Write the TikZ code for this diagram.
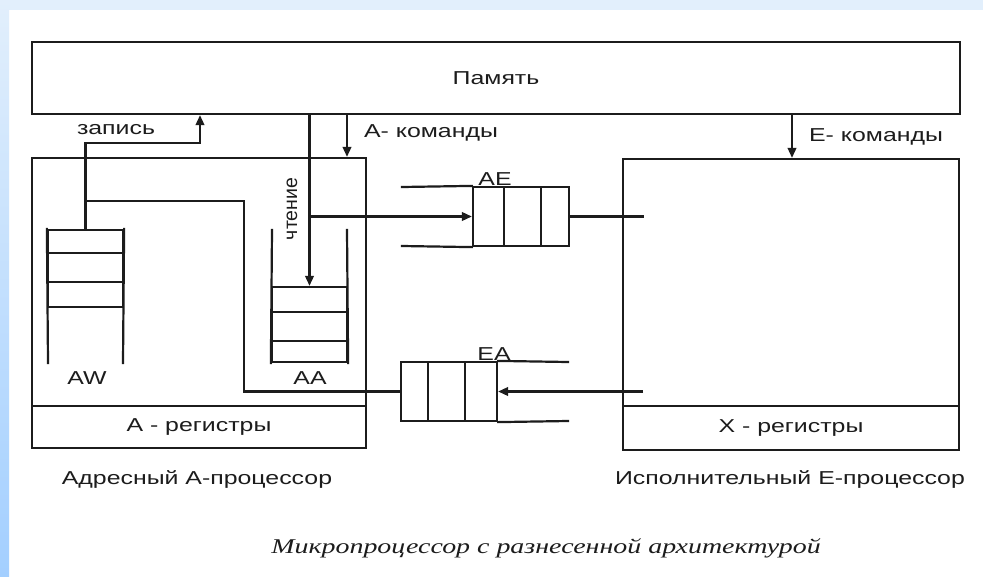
\documentclass[tikz,border=0pt]{standalone}
\usepackage{fontspec}
\setmainfont{Liberation Sans}
\newfontfamily\capfont{Liberation Serif}
\usepackage{graphicx}
\usetikzlibrary{arrows.meta}
\newcommand{\hx}[1]{\scalebox{1.33}[1]{#1}}
\definecolor{ink}{HTML}{1C1C1C}
\definecolor{bandlight}{HTML}{E2EFFC}
\definecolor{banddark}{HTML}{A3CFFF}
\begin{document}
\begin{tikzpicture}[x=1pt,y=-1pt,
  line width=2.2pt, draw=ink, text=ink, line cap=rect,
  box/.style={draw=ink, line width=2.2pt, inner sep=0pt, font=\fontsize{18.7}{21}\selectfont},
  cell/.style={draw=ink, line width=2.2pt, inner sep=0pt},
  lbl/.style={inner sep=0pt, font=\fontsize{18.7}{21}\selectfont},
  arr/.style={line cap=butt, -{Triangle[length=10pt,width=8.5pt]}}]
\useasboundingbox (0,0) rectangle (983,576);
\fill[white] (0,0) rectangle (983,576);
\fill[bandlight] (0,0) rectangle (983,10);
\fill[top color=bandlight, bottom color=banddark] (0,0) rectangle (9,576);

% memory
\node[box, minimum width=928pt, minimum height=72pt] (mem) at (496,78) {\hx{Память}};
% A processor
\node[box, minimum width=334pt, minimum height=290pt] (aproc) at (199,303) {};
\node[box, minimum width=334pt, minimum height=42pt] (aregs) at (199,427) {\hx{A - регистры}};
% E processor
\node[box, minimum width=336pt, minimum height=291pt] (eproc) at (791,304.5) {};
\node[box, minimum width=336pt, minimum height=44pt] (xregs) at (791,428) {\hx{X - регистры}};

% AW stack
\node[cell, minimum width=75pt, minimum height=23pt] (aw1) at (85.5,241.5) {};
\node[cell, minimum width=75pt, minimum height=29pt] (aw2) at (85.5,267.5) {};
\node[cell, minimum width=75pt, minimum height=25pt] (aw3) at (85.5,294.5) {};
\coordinate (awbl) at (48,363);
\coordinate (awbr) at (123,363);
\draw (aw1.north west) -- (awbl);
\draw (aw1.north east) -- (awbr);
\node[lbl] (awl) at (87,378) {\hx{AW}};

% AA stack
\node[cell, minimum width=75pt, minimum height=25pt] (aa1) at (309.5,299.5) {};
\node[cell, minimum width=75pt, minimum height=29pt] (aa2) at (309.5,326.5) {};
\node[cell, minimum width=75pt, minimum height=21pt] (aa3) at (309.5,351.5) {};
\coordinate (aatl) at (272,230);
\coordinate (aatr) at (347,230);
\draw (aa3.south west) -- (aatl);
\draw (aa3.south east) -- (aatr);
\node[lbl] (aal) at (310,378) {\hx{AA}};

% AE queue
\node[cell, minimum width=31pt, minimum height=59pt] (ae1) at (488.5,216.5) {};
\node[cell, minimum width=37pt, minimum height=59pt] (ae2) at (522.5,216.5) {};
\node[cell, minimum width=28pt, minimum height=59pt] (ae3) at (555,216.5) {};
\coordinate (aetl) at (402,187);
\coordinate (aebl) at (402,246);
\draw (aetl) -- (ae1.north west);
\draw (aebl) -- (ae1.south west);
\node[lbl] (ael) at (495,179) {\hx{AE}};

% EA queue
\node[cell, minimum width=27pt, minimum height=59pt] (ea1) at (414.5,391.5) {};
\node[cell, minimum width=37pt, minimum height=59pt] (ea2) at (446.5,391.5) {};
\node[cell, minimum width=32pt, minimum height=59pt] (ea3) at (481,391.5) {};
\coordinate (eatr) at (568,362);
\coordinate (eabr) at (568,421);
\draw (ea3.north east) -- (eatr);
\draw (ea3.south east) -- (eabr);
\node[lbl] (eal) at (494,354) {\hx{EA}};

% write path (запись)
\coordinate (wr) at (200,143);
\draw[arr] (aw1.north) |- (wr) -- (wr |- mem.south);
\node[lbl] (wlbl) at (116,130) {\hx{запись}};
% branch from write line to EA
\coordinate (bt) at (244,201);
\draw (aw1.north |- bt) -| (bt |- ea1.west) -- (ea1.west);

% read path (чтение)
\draw[arr] (aa1.north |- mem.south) -- (aa1.north);
\draw[arr] (aa1.north |- ae1.west) -- (ae1.west);
\node[lbl, rotate=90, font=\fontsize{19.5}{21}\selectfont] (rl) at (292,209) {чтение};

% A-commands
\coordinate (ac) at (347,0);
\draw[arr] (ac |- mem.south) -- (ac |- aproc.north);
\node[lbl, anchor=west] (acl) at (363,133) {\hx{A- команды}};
% E-commands
\coordinate (ec) at (792,0);
\draw[arr] (ec |- mem.south) -- (ec |- eproc.north);
\node[lbl, anchor=west] (ecl) at (808,137) {\hx{E- команды}};

% AE -> E processor, E processor -> EA
\coordinate (aeo) at (643,216.5);
\draw (ae3.east) -- (aeo);
\coordinate (eai) at (643,391.5);
\draw[arr] (eai) -- (ea3.east);

% captions
\node[lbl] (acap) at (197,479) {\hx{Адресный А-процессор}};
\node[lbl] (ecap) at (790,479) {\hx{Исполнительный Е-процессор}};
\node[inner sep=0pt, font=\capfont\itshape\fontsize{21}{24}\selectfont] (cap) at (546,548) {\scalebox{1.33}[1]{Микропроцессор с разнесенной архитектурой}};
\end{tikzpicture}
\end{document}
